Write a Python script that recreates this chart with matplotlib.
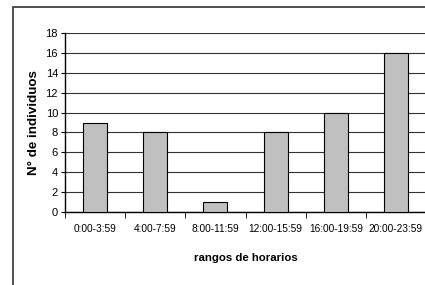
import matplotlib.pyplot as plt
from matplotlib.patches import Rectangle
import numpy as np

rangos = ["0:00-3:59", "4:00-7:59", "8:00-11:59", "12:00-15:59", "16:00-19:59", "20:00-23:59"]
individuos = [9, 8, 1, 8, 10, 16]
yticks = [0, 2, 4, 6, 8, 10, 12, 14, 16, 18]

plt.rcParams["font.family"] = ["Liberation Sans", "DejaVu Sans"]

fig = plt.figure(figsize=(4.25, 2.85), dpi=100)
fig.patches.append(Rectangle((13 / 425, -0.05), 1.2, 1 - 7 / 285 + 0.05,
                             transform=fig.transFigure, fill=False,
                             edgecolor="#333333", linewidth=1.2))

ax = fig.add_axes([65 / 425, 1 - 212 / 285, 361 / 425, (212 - 33) / 285])
x = np.arange(len(rangos))
ax.bar(x, individuos, width=0.4, color="#c0c0c0", edgecolor="black", linewidth=0.8, zorder=3)

ax.set_xlim(-0.5, len(rangos) - 0.5)
ax.set_ylim(0, 18)
ax.set_yticks(yticks)
ax.set_xticks(x)
ax.set_xticklabels(rangos)
ax.set_xticks(np.arange(-0.5, len(rangos), 1), minor=True)
ax.tick_params(axis="x", which="major", length=0, pad=9, labelsize=7.3)
ax.tick_params(axis="x", which="minor", length=4, direction="out")
ax.tick_params(axis="y", length=3, labelsize=8, pad=2)
ax.yaxis.grid(True, color="#333333", linewidth=0.8, zorder=0)
ax.set_axisbelow(True)
for s in ["top", "right"]:
    ax.spines[s].set_visible(False)
ax.spines["left"].set_linewidth(1)
ax.spines["bottom"].set_linewidth(1)

ax.set_xlabel("rangos de horarios", fontsize=8.2, fontweight="bold", labelpad=13)
ax.set_ylabel("N° de individuos", fontsize=9.6, fontweight="bold", labelpad=4)

fig.savefig("out.png", dpi=100)
